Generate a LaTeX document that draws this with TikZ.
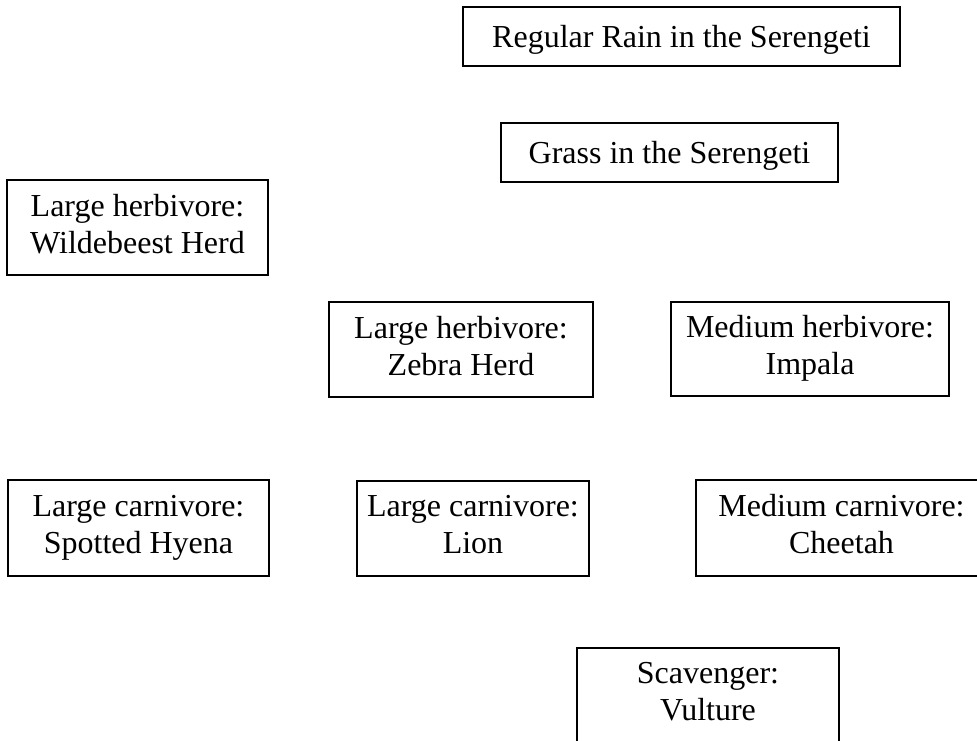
\documentclass[tikz,border=0pt]{standalone}
\usepackage{fontspec}
\setmainfont{Liberation Serif}
\newcommand{\topstrut}{\rule{0pt}{14.9pt}}
\newcommand{\botstrut}{\rule[-4pt]{0pt}{4pt}}
\tikzset{box/.style={draw=black, line width=0.8pt, align=center, inner sep=0pt, font=\fontsize{16}{18.4}\selectfont,
  execute at begin node=\topstrut, execute at end node=\botstrut}}
\begin{document}
\begin{tikzpicture}[x=0.5pt, y=-0.5pt]
        \useasboundingbox (0,0) rectangle (977,740);
\node[box, minimum width=218.5pt, minimum height=29.5pt] (rain) at (681.5, 36.5) {Regular Rain in the Serengeti};
\node[box, minimum width=168.5pt, minimum height=29.5pt] (grass) at (669.5, 152.5) {Grass in the Serengeti};
\node[box, minimum width=130.5pt, minimum height=47.5pt] (wildebeest) at (137.5, 227.5) {Large herbivore:\\Wildebeest Herd};
\node[box, minimum width=132pt, minimum height=47.5pt] (zebra) at (461, 349.5) {Large herbivore:\\Zebra Herd};
\node[box, minimum width=139pt, minimum height=47pt] (impala) at (810, 349) {Medium herbivore:\\Impala};
\node[box, minimum width=130.5pt, minimum height=48pt] (hyena) at (138.5, 528) {Large carnivore:\\Spotted Hyena};
\node[box, minimum width=116pt, minimum height=47.5pt] (lion) at (473, 528.5) {Large carnivore:\\Lion};
\node[box, minimum width=145.5pt, minimum height=48pt] (cheetah) at (841.5, 528) {Medium carnivore:\\Cheetah};
\node[box, minimum width=131pt, minimum height=47.5pt] (vulture) at (708, 695.5) {Scavenger:\\Vulture};
\end{tikzpicture}
\end{document}
